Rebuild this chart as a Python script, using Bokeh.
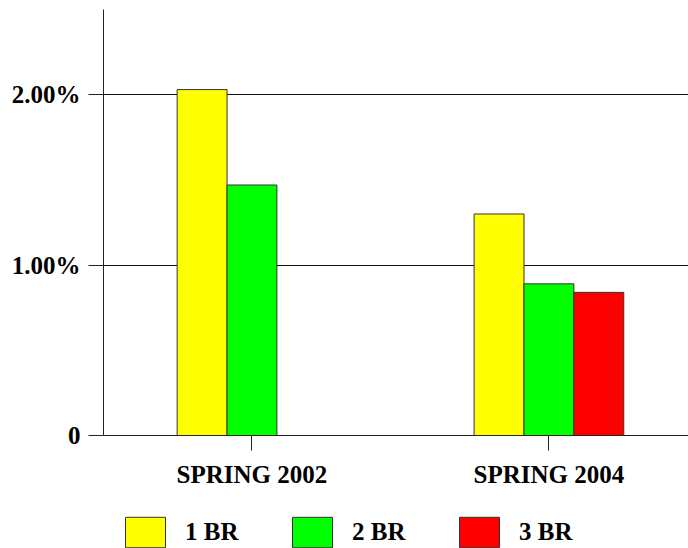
from bokeh.plotting import figure
from bokeh.layouts import column
from bokeh.models import (ColumnDataSource, Range1d, FixedTicker, Legend, LegendItem)
from bokeh.embed import file_html
from bokeh.resources import INLINE

# Vacancy share by unit size, two survey periods
periods = ["SPRING 2002", "SPRING 2004"]
series_names = ["1 BR", "2 BR", "3 BR"]
br1 = [0.0203, 0.0130]
br2 = [0.0147, 0.0089]
br3 = [0.0000, 0.0084]
y_ticks = [0.0, 0.01, 0.02]
y_tick_labels = ["0", "1.00%", "2.00%"]

colors = ["#FFFF00", "#00FF00", "#FF0000"]
FONT = "Liberation Serif"
FONT_SIZE = "25px"
EDGE = "#333333"

# --- main bar chart ---
p = figure(width=688, height=505, output_backend="svg", toolbar_location=None,
           x_range=Range1d(0, 1.97), y_range=Range1d(0, 0.025),
           min_border_left=103, min_border_right=0, min_border_top=9,
           min_border_bottom=70, outline_line_color=None)

bar_w = 0.168
centers = [i + 0.5 for i in range(len(periods))]
sources = []
for k, (vals, col) in enumerate(zip([br1, br2, br3], colors)):
    src = ColumnDataSource(dict(x=[c + (k - 1) * bar_w for c in centers], top=vals))
    sources.append(src)
    p.vbar(x="x", top="top", bottom=0, width=bar_w, source=src,
           fill_color=col, line_color=EDGE, line_width=1)

p.xaxis.ticker = FixedTicker(ticks=centers)
p.xaxis.major_label_overrides = {c: name for c, name in zip(centers, periods)}
p.yaxis.ticker = FixedTicker(ticks=y_ticks)
p.yaxis.major_label_overrides = {t: lab for t, lab in zip(y_ticks, y_tick_labels)}

for ax in (p.xaxis, p.yaxis):
    ax.major_label_text_font = FONT
    ax.major_label_text_font_size = FONT_SIZE
    ax.major_label_text_font_style = "bold"
    ax.major_label_text_color = "black"
    ax.axis_line_color = "#222222"
    ax.major_tick_line_color = "#222222"
    ax.major_tick_in = 0
    ax.major_tick_out = 15
    ax.minor_tick_line_color = None

p.xaxis.major_label_standoff = 10
p.yaxis.major_label_standoff = 8

p.xgrid.grid_line_color = None
p.ygrid.ticker = FixedTicker(ticks=y_ticks[1:])
p.ygrid.grid_line_color = "#111111"
p.ygrid.grid_line_alpha = 1.0

# --- legend strip below the chart (series renderers kept hidden here) ---
lg = figure(width=688, height=43, output_backend="svg", toolbar_location=None,
            x_range=Range1d(0, 1.97), y_range=Range1d(0, 0.025),
            x_axis_location=None, y_axis_location=None,
            min_border_left=103, min_border_right=0, min_border_top=8,
            min_border_bottom=0, outline_line_color=None)
lg.xgrid.grid_line_color = None
lg.ygrid.grid_line_color = None

items = []
for name, col, src in zip(series_names, colors, sources):
    r = lg.vbar(x="x", top="top", bottom=0, width=bar_w, source=src,
                fill_color=col, line_color=EDGE, line_width=1, visible=False)
    items.append(LegendItem(label=name, renderers=[r]))

legend = Legend(items=items, location=(17, -3), orientation="horizontal",
                glyph_width=50, glyph_height=38, label_standoff=15,
                label_width=102, spacing=0, padding=0, margin=0,
                border_line_color=None, background_fill_alpha=0,
                inactive_fill_alpha=0,
                label_text_font=FONT, label_text_font_size=FONT_SIZE,
                label_text_font_style="bold", label_text_color="black")
lg.add_layout(legend, "center")

open("out.html", "w").write(file_html(column(p, lg, spacing=0), INLINE))
